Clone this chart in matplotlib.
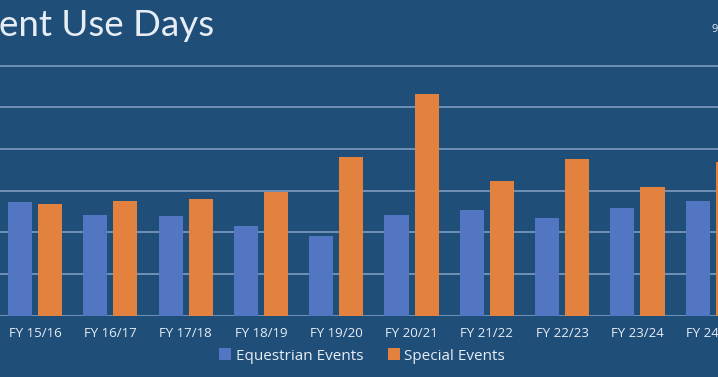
import numpy as np
import matplotlib
matplotlib.use("Agg")
import matplotlib.pyplot as plt

# values (gridline step taken as 50)
years = ['FY 15/16', 'FY 16/17', 'FY 17/18', 'FY 18/19', 'FY 19/20',
         'FY 20/21', 'FY 21/22', 'FY 22/23', 'FY 23/24', 'FY 24/25']
equestrian = [136, 121, 119, 108, 96, 121, 127, 117, 129, 138]
special = [134, 137, 140, 148, 190, 266, 161, 188, 154, 184]

bg = '#1f4e79'
txt = '#e6edf5'
eq_color = '#5376c2'
sp_color = '#e2823e'
grid_color = '#7d9dc0'

plt.rcParams['font.family'] = ['Open Sans', 'DejaVu Sans']

fig = plt.figure(figsize=(7.18, 3.77), dpi=100, facecolor=bg)
# axes run past the canvas on both sides, like the cropped slide
ax = fig.add_axes([0, 61.5 / 377, 1, 258.3 / 377])
ax.set_facecolor(bg)

x = np.arange(len(years))
w = 0.32
ax.bar(x - 0.2, equestrian, w, color=eq_color, label='Equestrian Events', zorder=3)
ax.bar(x + 0.2, special, w, color=sp_color, label='Special Events', zorder=3)

ax.set_xlim(-0.465, 9.07)
ax.set_ylim(0, 310)
ax.set_yticks(range(0, 301, 50))
ax.yaxis.grid(True, color=grid_color, linewidth=1.2, zorder=0)
ax.tick_params(axis='y', left=False, labelleft=False)
ax.tick_params(axis='x', length=0, pad=8, labelsize=9.5, labelcolor=txt)
ax.set_xticks(x)
ax.set_xticklabels(years)
for s in ax.spines.values():
    s.set_visible(False)

leg = fig.legend(loc='center', bbox_to_anchor=(362 / 718, 1 - 356 / 377), ncol=2,
                 frameon=False, fontsize=11, handlelength=0.8, handleheight=0.8,
                 handletextpad=0.3, columnspacing=1.6)
for t in leg.get_texts():
    t.set_color(txt)

fig.text(-0.002, 1 - 25 / 377, 'ent Use Days', fontsize=26.5, color=txt,
         fontfamily=['Lato', 'DejaVu Sans'], fontweight='normal', va='center', ha='left')
fig.text(1.0, 1 - 30 / 377, '9', fontsize=8, color=txt, va='center', ha='right')

fig.savefig('out.png', dpi=100, facecolor=bg)
